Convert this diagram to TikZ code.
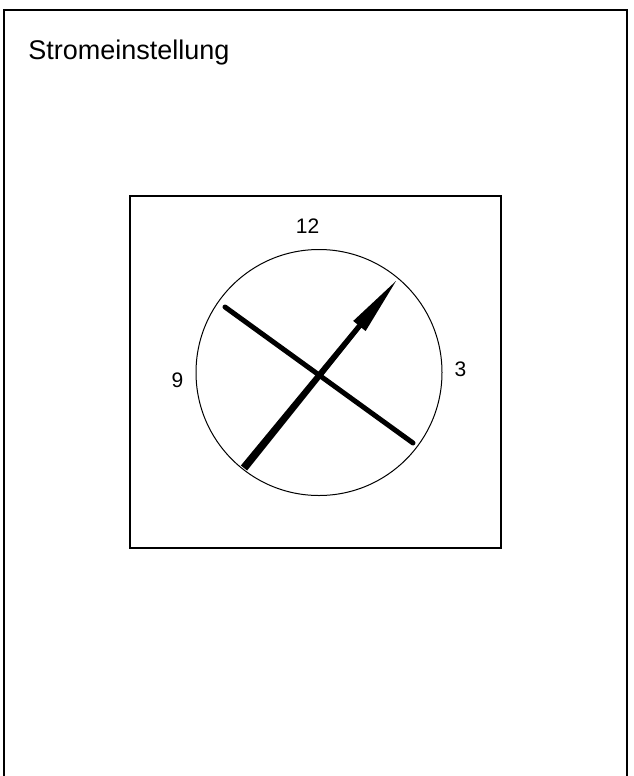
\documentclass[tikz,border=0pt]{standalone}
\usepackage{fontspec}
\setmainfont{Liberation Sans}
\usetikzlibrary{calc}
\begin{document}
\begin{tikzpicture}[
        x=0.5pt, y=-0.5pt,
        title/.style={font=\fontsize{13.5}{16}\selectfont, inner sep=0pt, anchor=base west},
        digit/.style={font=\fontsize{10.5}{12}\selectfont, inner sep=0pt, anchor=base},
        frame/.style={draw=black, line width=1pt},
        panel/.style={draw=black, line width=0.6pt},
        dial/.style={draw=black, line width=0.5pt},
        hand/.style={black, line width=2.5pt, line cap=round}
    ]
    \useasboundingbox (0,0) rectangle (633,776);
    \draw[frame] (4,776) -- (4,10) -- (627,10) -- (627,776);
    \node[title] (ttl) at (28,59) {Stromeinstellung};
    \draw[panel] (130,196) rectangle (501,548);
    \coordinate (ctr) at (319,372.5);
    \draw[dial] (ctr) circle (123);
    \node[digit] (d12) at (307.5,233) {12};
    \node[digit] (d9)  at (177.5,387) {9};
    \node[digit] (d3)  at (460.5,376) {3};
    \coordinate (ha) at (225,307);
    \coordinate (hb) at (413,443);
    \draw[hand] (ha) -- (hb);
    \coordinate (tip)  at (396,281);
    \coordinate (tail) at (244,468);
    \coordinate (hbase) at ($(tip)!29pt!(tail)$);
    \fill[black] ($(tail)!2pt!-90:(tip)$) -- ($(hbase)!1.3pt!-90:(tip)$)
        -- ($(hbase)!4pt!-90:(tip)$) -- (tip) -- ($(hbase)!4pt!90:(tip)$)
        -- ($(hbase)!1.3pt!90:(tip)$) -- ($(tail)!2pt!90:(tip)$) -- cycle;
\end{tikzpicture}
\end{document}
